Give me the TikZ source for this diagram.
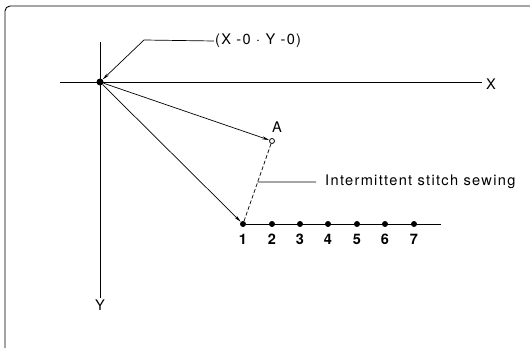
\documentclass[tikz,border=0pt]{standalone}
\usepackage{fontspec}
\setmainfont{TeX Gyre Heros}
\newfontfamily\wideheros[LetterSpace=9]{TeX Gyre Heros}
\usetikzlibrary{arrows.meta,calc}
\begin{document}
\begin{tikzpicture}[x=1pt,y=-1pt,
  dot/.style={circle,fill=black,inner sep=0pt,minimum size=6pt},
  odot/.style={circle,draw=black,fill=white,line width=0.8pt,inner sep=0pt,minimum size=5pt},
  lbl/.style={inner sep=1pt,font=\wideheros\fontsize{14.6}{15}\selectfont},
  num/.style={inner sep=1pt,font=\bfseries\fontsize{14.5}{15}\selectfont},
  ln/.style={line width=0.7pt},
  arr/.style={ln,-{Stealth[length=7pt,width=3pt]}}]
\useasboundingbox (0,0) rectangle (530,350);
% frame
\draw[line width=0.9pt,rounded corners=5pt] (5,348) -- (5,6) -- (530,6);
% axes
\coordinate (xs) at (60,82);
\coordinate (xe) at (482,82);
\coordinate (ys) at (100,42);
\coordinate (ye) at (100,298);
\node[lbl,anchor=west] (xl) at (485,84) {X};
\node[lbl,anchor=north] (yl) at (100,299) {Y};
\draw[ln] (xs) -- (xe);
\draw[ln] (ys) -- (ye);
% points
\node[dot,minimum size=7pt] (O) at (100,82) {};
\node[odot] (A) at (272,141) {};
\node[lbl,anchor=south] (Al) at (277,134) {A};
\foreach \i/\x in {1/243,2/272,3/300,4/328,5/357,6/385,7/414}{
  \node[dot] (p\i) at (\x,224) {};
  \node[num,anchor=north] (n\i) at (\x,233) {\i};
}
\coordinate (le) at (441,224);
\draw[ln] (p1) -- (le);
% paths
\draw[arr] (O) -- (A);
\draw[arr] (O) -- (p1);
\draw[ln,dashed,dash pattern=on 4pt off 2pt] (A) -- (p1);
% leaders
\node[lbl,anchor=west] (org) at (214,41) {(X -0 $\cdot$ Y -0)};
\coordinate (k1) at (144,40);
\draw[ln,{Stealth[length=7pt,width=3pt]}-] (O) -- (k1) -- (org.west);
\coordinate (d1) at ($(A)!0.494!(p1)$);
\coordinate (d2) at (316,182);
\node[lbl,anchor=west] (isw) at (324,182) {Intermittent stitch sewing};
\draw[ln] (d1) -- (d2);
\end{tikzpicture}
\end{document}
